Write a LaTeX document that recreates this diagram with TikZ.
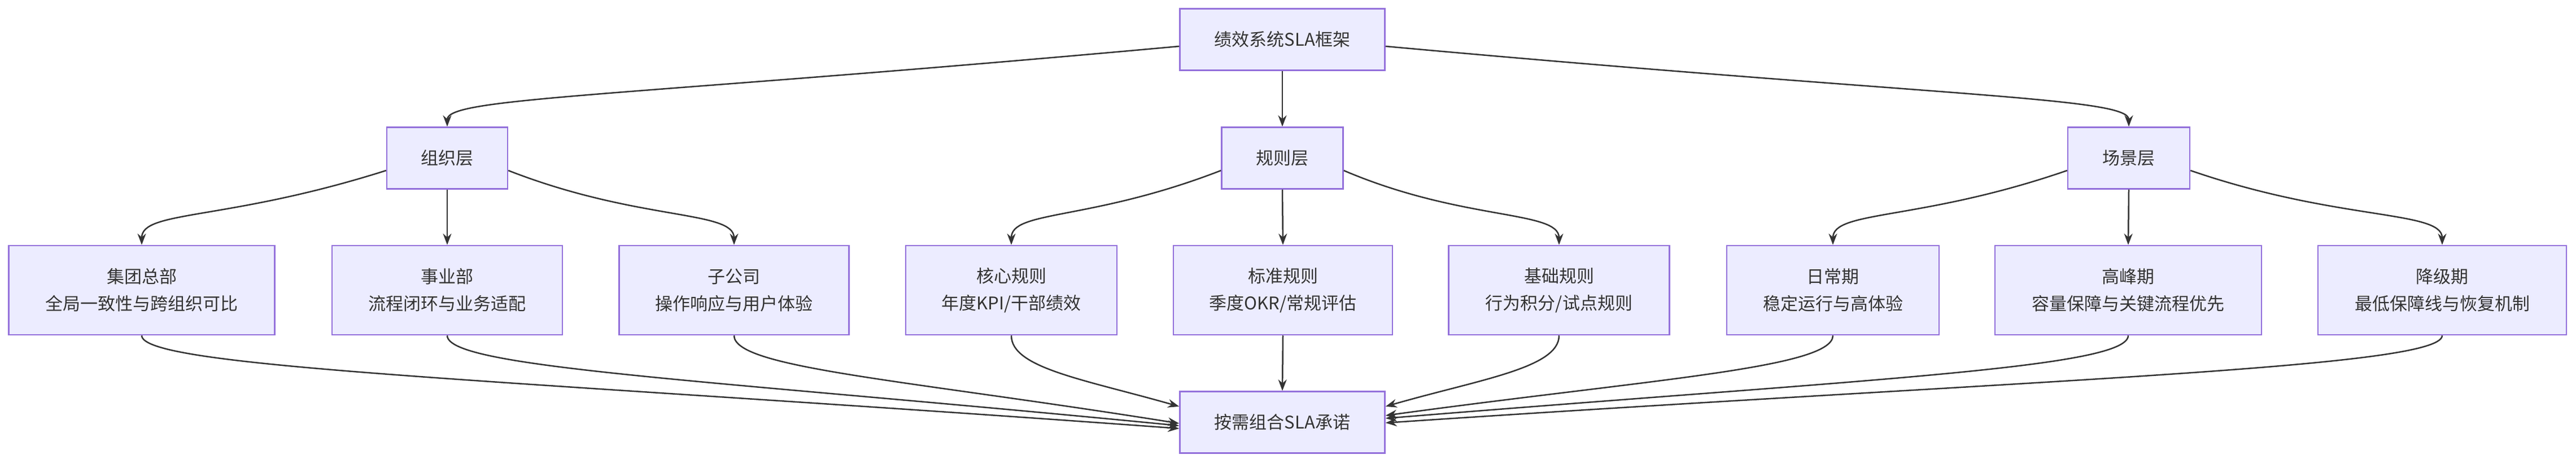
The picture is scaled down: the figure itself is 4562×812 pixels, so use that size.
\documentclass[tikz,border=0pt]{standalone}
\usepackage{fontspec}
\setmainfont{Noto Sans CJK SC}
\usetikzlibrary{arrows.meta,calc}
\definecolor{nfill}{HTML}{ECECFF}
\definecolor{nline}{HTML}{9370DB}
\definecolor{ink}{HTML}{333333}
\begin{document}
\begin{tikzpicture}[x=1pt,y=1pt,
  box/.style={draw=nline,fill=nfill,line width=2.5pt,inner sep=0pt,align=center,text=ink,
    font=\fontsize{31}{48}\selectfont,minimum height=109pt},
  big/.style={box,minimum height=158pt},
  e/.style={draw=ink,line width=2.5pt,-{Stealth[length=20pt,width=15pt]}}]
\useasboundingbox (0,0) rectangle (4562,812);
\node[box,minimum width=363pt] (top) at (2271,742) {绩效系统SLA框架};
\node[box,minimum width=214pt] (org) at (792,532) {组织层};
\node[box,minimum width=215pt] (rule) at (2271,532) {规则层};
\node[box,minimum width=216pt] (scene) at (3770,532) {场景层};
\node[big,minimum width=471pt] (hq) at (251,298) {集团总部\\全局一致性与跨组织可比};
\node[big,minimum width=408pt] (bu) at (792,298) {事业部\\流程闭环与业务适配};
\node[big,minimum width=407pt] (sub) at (1300,298) {子公司\\操作响应与用户体验};
\node[big,minimum width=374pt] (core) at (1791,298) {核心规则\\年度KPI/干部绩效};
\node[big,minimum width=388pt] (std) at (2272,298) {标准规则\\季度OKR/常规评估};
\node[big,minimum width=391pt] (base) at (2761,298) {基础规则\\行为积分/试点规则};
\node[big,minimum width=376pt] (daily) at (3246,298) {日常期\\稳定运行与高体验};
\node[big,minimum width=472pt] (peak) at (3769,298) {高峰期\\容量保障与关键流程优先};
\node[big,minimum width=440pt] (deg) at (4325,298) {降级期\\最低保障线与恢复机制};
\node[box,minimum width=363pt] (bot) at (2271,64) {按需组合SLA承诺};
% top level
\draw[e] ([yshift=-12pt]top.west) .. controls (1100,640) and (792,640) .. (org.north);
\draw[e] (top.south) -- (rule.north);
\draw[e] ([yshift=-12pt]top.east) .. controls (3442,640) and (3770,640) .. (scene.north);
% second level
\draw[e] ([yshift=-22pt]org.west) .. controls (400,420) and (251,440) .. (hq.north);
\draw[e] (org.south) -- (bu.north);
\draw[e] ([yshift=-22pt]org.east) .. controls (1130,420) and (1300,440) .. (sub.north);
\draw[e] ([yshift=-22pt]rule.west) .. controls (1930,420) and (1791,440) .. (core.north);
\draw[e] (rule.south) -- (std.north);
\draw[e] ([yshift=-22pt]rule.east) .. controls (2590,420) and (2761,440) .. (base.north);
\draw[e] ([yshift=-22pt]scene.west) .. controls (3400,420) and (3246,440) .. (daily.north);
\draw[e] (scene.south) -- (peak.north);
\draw[e] ([yshift=-22pt]scene.east) .. controls (4140,420) and (4325,440) .. (deg.north);
% to bottom
\draw[e] (hq.south) .. controls (251,160) and (900,140) .. ([yshift=-11pt]bot.west);
\draw[e] (bu.south) .. controls (792,160) and (1250,140) .. ([yshift=-6pt]bot.west);
\draw[e] (sub.south) .. controls (1300,160) and (1600,140) .. ([yshift=-2pt]bot.west);
\draw[e] (core.south) .. controls (1791,160) and (1920,140) .. ([yshift=28pt]bot.west);
\draw[e] (std.south) -- (bot.north);
\draw[e] (base.south) .. controls (2761,160) and (2620,140) .. ([yshift=28pt]bot.east);
\draw[e] (daily.south) .. controls (3246,160) and (2920,140) .. ([yshift=12pt]bot.east);
\draw[e] (peak.south) .. controls (3769,160) and (3300,140) .. ([yshift=7pt]bot.east);
\draw[e] (deg.south) .. controls (4325,160) and (3600,140) .. ([yshift=-1pt]bot.east);
\end{tikzpicture}
\end{document}
